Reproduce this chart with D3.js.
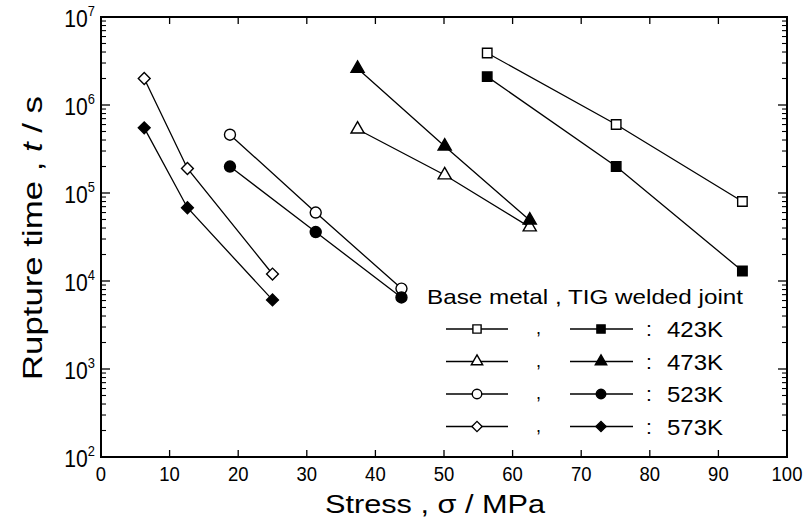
<!DOCTYPE html>
<html>
<head>
<meta charset="utf-8">
<script src="https://cdn.jsdelivr.net/npm/d3@7"></script>
<style>
  body { margin: 0; background: #fff; }
  svg { display: block; font-family: "Liberation Sans", Arial, sans-serif; }
</style>
</head>
<body>
<svg id="chart" width="810" height="522"></svg>
<script>
// values (stress in MPa, rupture time in s)
const temps = ["423K", "473K", "523K", "573K"];
const stress423 = [56.3, 75.1, 93.5];
const base423 = [3.9e6, 6.0e5, 8.0e4];
const tig423 = [2.1e6, 2.0e5, 1.3e4];
const stress473 = [37.4, 50.1, 62.5];
const base473 = [5.3e5, 1.6e5, 4.1e4];
const tig473 = [2.6e6, 3.4e5, 4.9e4];
const stress523 = [18.8, 31.3, 43.8];
const base523 = [4.6e5, 6.0e4, 8.2e3];
const tig523 = [2.0e5, 3.6e4, 6.5e3];
const stress573 = [6.3, 12.6, 25.0];
const base573 = [2.0e6, 1.9e5, 1.2e4];
const tig573 = [5.5e5, 6.8e4, 6.1e3];
const xTicks = [0, 10, 20, 30, 40, 50, 60, 70, 80, 90, 100];
const yDecades = [2, 3, 4, 5, 6, 7];

const svg = d3.select("#chart");
const pLeft = 101, pRight = 787, pTop = 17, pBottom = 457;

const x = d3.scaleLinear().domain([0, 100]).range([pLeft, pRight]);
const y = d3.scaleLog().domain([1e2, 1e7]).range([pBottom, pTop]);

// series table built from the arrays above
const shapes = ["square", "triangle", "circle", "diamond"];
const stressList = [stress423, stress473, stress523, stress573];
const baseList = [base423, base473, base523, base573];
const tigList = [tig423, tig473, tig523, tig573];
let series = [];
temps.forEach(function(t, i) {
    series.push({shape: shapes[i], filled: false, pts: stressList[i].map((s, j) => [s, baseList[i][j]])});
    series.push({shape: shapes[i], filled: true, pts: stressList[i].map((s, j) => [s, tigList[i][j]])});
});

function symbolPath(shape, scale) {
    let sym;
    if (shape == "square") sym = d3.symbol(d3.symbolSquare, 90 * scale);
    else if (shape == "triangle") sym = d3.symbol(d3.symbolTriangle, 75 * scale);
    else if (shape == "circle") sym = d3.symbol(d3.symbolCircle, 95 * scale);
    else sym = d3.symbol(d3.symbolSquare, 70 * scale);
    return sym();
}

function drawMarker(g, shape, filled, cx, cy, scale) {
    g.append("path")
        .attr("d", symbolPath(shape, scale))
        .attr("transform", "translate(" + cx + "," + cy + ")" + (shape == "diamond" ? " rotate(45)" : ""))
        .attr("fill", filled ? "#000" : "#fff")
        .attr("stroke", "#000")
        .attr("stroke-width", 1.4);
}

// axes frame
const axisG = svg.append("g");
axisG.append("rect")
    .attr("x", pLeft).attr("y", pTop)
    .attr("width", pRight - pLeft).attr("height", pBottom - pTop)
    .attr("fill", "none").attr("stroke", "#000").attr("stroke-width", 2);

// x ticks, inward on bottom and top
xTicks.forEach(function(v) {
    axisG.append("line").attr("x1", x(v)).attr("x2", x(v)).attr("y1", pBottom).attr("y2", pBottom - 7)
        .attr("stroke", "#000").attr("stroke-width", 1.3);
    axisG.append("line").attr("x1", x(v)).attr("x2", x(v)).attr("y1", pTop).attr("y2", pTop + 7)
        .attr("stroke", "#000").attr("stroke-width", 1.3);
    axisG.append("text")
        .attr("transform", "translate(" + x(v) + ",481) scale(0.88,1)")
        .attr("text-anchor", "middle").attr("font-size", 21).text(v);
});

// y ticks (log), major and minor, on left and right
yDecades.forEach(function(d) {
    const v = Math.pow(10, d);
    [pLeft, pRight].forEach(function(px) {
        const dir = px == pLeft ? 1 : -1;
        axisG.append("line").attr("x1", px).attr("x2", px + dir * 9).attr("y1", y(v)).attr("y2", y(v))
            .attr("stroke", "#000").attr("stroke-width", 1.3);
        if (d < 7) {
            for (let m = 2; m <= 9; m++) {
                axisG.append("line").attr("x1", px).attr("x2", px + dir * 5)
                    .attr("y1", y(v * m)).attr("y2", y(v * m))
                    .attr("stroke", "#000").attr("stroke-width", 1.1);
            }
        }
    });
    const t = axisG.append("text")
        .attr("transform", "translate(95," + (y(v) + 10) + ") scale(0.92,1)")
        .attr("text-anchor", "end").attr("font-size", 23);
    t.append("tspan").text("10");
    t.append("tspan").attr("dy", -11).attr("font-size", 14).text(d);
});

// axis titles
svg.append("text").attr("x", 435).attr("y", 513).attr("text-anchor", "middle")
    .attr("font-size", 26).attr("textLength", 220).attr("lengthAdjust", "spacingAndGlyphs")
    .text("Stress , σ / MPa");
const yt = svg.append("text").attr("transform", "translate(42,238) rotate(-90)")
    .attr("text-anchor", "middle").attr("font-size", 27)
    .attr("textLength", 284).attr("lengthAdjust", "spacingAndGlyphs");
yt.append("tspan").text("Rupture time , ");
yt.append("tspan").attr("font-style", "italic").text("t");
yt.append("tspan").text(" / s");

// data lines and markers
const line = d3.line().x(d => x(d[0])).y(d => y(d[1]));
const plot = svg.append("g");
series.forEach(function(s) {
    plot.append("path").attr("d", line(s.pts))
        .attr("fill", "none").attr("stroke", "#000").attr("stroke-width", 1.3);
});
series.forEach(function(s) {
    s.pts.forEach(function(p) {
        drawMarker(plot, s.shape, s.filled, x(p[0]), y(p[1]), 1);
    });
});

// legend
const leg = svg.append("g");
leg.append("text").attr("x", 427).attr("y", 304).attr("font-size", 21)
    .attr("textLength", 316).attr("lengthAdjust", "spacingAndGlyphs")
    .text("Base metal , TIG welded joint");
temps.forEach(function(t, i) {
    const ry = 329 + i * 32.5;
    leg.append("line").attr("x1", 446).attr("x2", 508).attr("y1", ry).attr("y2", ry)
        .attr("stroke", "#000").attr("stroke-width", 1.3);
    drawMarker(leg, shapes[i], false, 477, ry, 0.75);
    leg.append("text").attr("x", 536).attr("y", ry + 5).attr("font-size", 18).text(",");
    leg.append("line").attr("x1", 570).attr("x2", 633).attr("y1", ry).attr("y2", ry)
        .attr("stroke", "#000").attr("stroke-width", 1.3);
    drawMarker(leg, shapes[i], true, 601, ry, 0.75);
    leg.append("text").attr("x", 646).attr("y", ry + 7).attr("font-size", 21).text(":");
    leg.append("text").attr("x", 667).attr("y", ry + 8).attr("font-size", 22)
        .attr("textLength", 56).attr("lengthAdjust", "spacingAndGlyphs").text(t);
});
</script>
</body>
</html>
